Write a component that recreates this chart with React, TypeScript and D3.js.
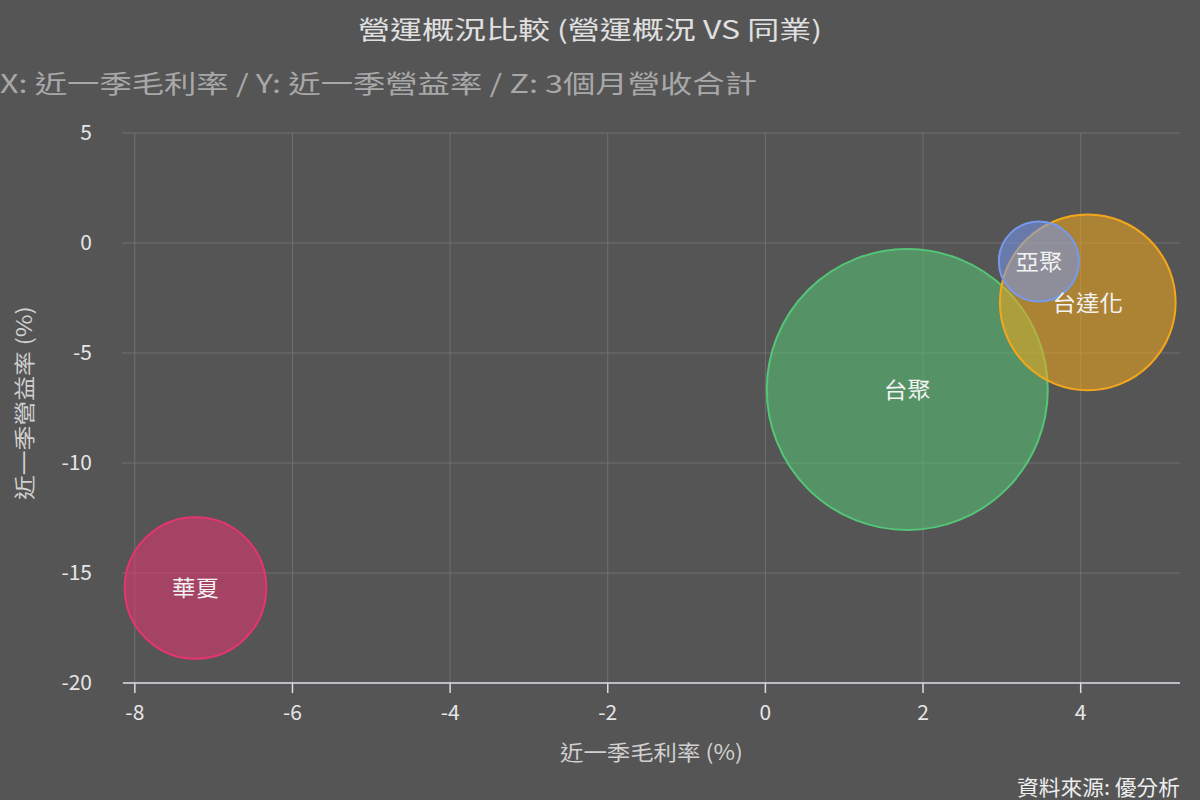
import * as d3 from "d3";

const companies = ["華夏", "台聚", "台達化", "亞聚"];
const grossMargin = [-7.23, 1.8, 4.09, 3.47]; // X: 近一季毛利率 (%)
const opMargin = [-15.68, -6.66, -2.7, -0.84]; // Y: 近一季營益率 (%)
const revenue3m = [50, 197, 77, 16]; // Z: 3個月營收合計
const colors = ["#e5356f", "#55c677", "#f4a71a", "#7799ee"];

const xTicks = [-8, -6, -4, -2, 0, 2, 4];
const yTicks = [5, 0, -5, -10, -15, -20];

const width = 1200;
const height = 800;
const plot = {left: 123, right: 1180, top: 133, bottom: 683};
const font = "'Noto Sans CJK TC', 'Noto Sans', sans-serif";

export default function App() {
    const x = d3.scaleLinear([-8.15, 5.26], [plot.left, plot.right]);
    const y = d3.scaleLinear([-20, 5], [plot.bottom, plot.top]);
    const r = d3.scaleSqrt([0, d3.max(revenue3m) as number], [0, 140.5]);

    return <svg width={width} height={height} viewBox={`0 0 ${width} ${height}`}
                style={{position: "absolute", left: 0, top: 0, background: "#555555", fontFamily: font}}>
        <rect width={width} height={height} fill="#555555"/>

        <text x={590} y={39} textAnchor="middle" fontSize={25} fill="#e0e0e0"
              textLength={464} lengthAdjust="spacingAndGlyphs">營運概況比較 (營運概況 VS 同業)</text>
        <text x={0} y={93} fontSize={25} fill="#a8a8a8"
              textLength={757} lengthAdjust="spacingAndGlyphs">X: 近一季毛利率 / Y: 近一季營益率 / Z: 3個月營收合計</text>

        {/* grid */}
        {yTicks.map(t => <line key={"gy" + t} x1={plot.left - 1} x2={plot.right} y1={y(t)} y2={y(t)}
                               stroke="#707070" strokeWidth={1}/>)}
        {xTicks.map(t => <line key={"gx" + t} x1={x(t)} x2={x(t)} y1={plot.top} y2={plot.bottom}
                               stroke="#707070" strokeWidth={1}/>)}

        {/* x axis */}
        <line x1={plot.left} x2={plot.right} y1={plot.bottom} y2={plot.bottom} stroke="#d8dce6" strokeWidth={1.5}/>
        {xTicks.map(t => <g key={"tx" + t}>
            <line x1={x(t)} x2={x(t)} y1={plot.bottom} y2={plot.bottom + 10} stroke="#d8dce6" strokeWidth={1.5}/>
            <text x={x(t)} y={720} textAnchor="middle" fontSize={21} fill="#e6e6e6">{t}</text>
        </g>)}
        {yTicks.map(t => <text key={"ty" + t} x={92} y={y(t)} dy="0.35em" textAnchor="end" fontSize={21}
                               fill="#e6e6e6">{t}</text>)}

        <text x={(plot.left + plot.right) / 2} y={760} textAnchor="middle" fontSize={21} fill="#d0d0d0"
              textLength={183} lengthAdjust="spacingAndGlyphs">近一季毛利率 (%)</text>
        <text transform={`translate(32,403) rotate(-90)`} textAnchor="middle"
              fontSize={21} fill="#d0d0d0" textLength={194} lengthAdjust="spacingAndGlyphs">近一季營益率 (%)</text>

        {/* bubbles */}
        {companies.map((c, i) => <circle key={"b" + c} cx={x(grossMargin[i])} cy={y(opMargin[i])} r={r(revenue3m[i])}
                                         fill={colors[i]} fillOpacity={0.55} stroke={colors[i]} strokeWidth={2}/>)}
        {companies.map((c, i) => <text key={"l" + c} x={x(grossMargin[i])} y={y(opMargin[i])} dy="0.38em"
                                       textAnchor="middle" fontSize={22} fill="#f2f2f2"
                                       textLength={c.length * 23.5} lengthAdjust="spacingAndGlyphs">{c}</text>)}

        <text x={plot.right} y={795} textAnchor="end" fontSize={21} fill="#eeeeee"
              textLength={163} lengthAdjust="spacingAndGlyphs">資料來源: 優分析</text>
    </svg>;
}
